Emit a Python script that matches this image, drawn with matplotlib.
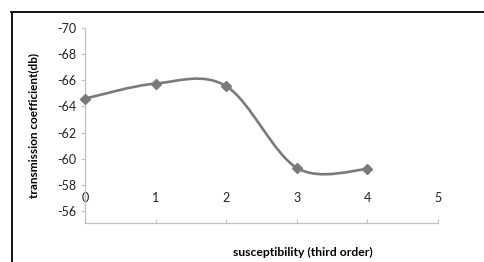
import numpy as np
import matplotlib.pyplot as plt
from matplotlib.path import Path
from matplotlib.patches import PathPatch
from matplotlib.lines import Line2D

plt.rcParams['font.family'] = ['Lato', 'DejaVu Sans']
plt.rcParams['axes.unicode_minus'] = False

susceptibility = [0, 1, 2, 3, 4]
transmission = [-64.6, -65.75, -65.55, -59.3, -59.2]
x_ticks = [0, 1, 2, 3, 4, 5]
y_ticks = [-70, -68, -66, -64, -62, -60, -58, -56]


def smooth_path(xs, ys):
    # excel-style smoothed line as bezier segments
    pts = np.column_stack([xs, ys])
    verts = [pts[0]]
    codes = [Path.MOVETO]
    n = len(pts)
    for i in range(n - 1):
        p0 = pts[i - 1] if i > 0 else pts[i]
        p1 = pts[i]
        p2 = pts[i + 1]
        p3 = pts[i + 2] if i + 2 < n else pts[i + 1]
        c1 = p1 + (p2 - p0) / 6
        c2 = p2 - (p3 - p1) / 6
        verts += [c1, c2, p2]
        codes += [Path.CURVE4] * 3
    return Path(verts, codes)


fig = plt.figure(figsize=(4.84, 2.62), dpi=100)
ax = fig.add_axes([0.1756, 0.149, 0.7294, 0.744])

line_col = '#7a7a7a'
ax.add_patch(PathPatch(smooth_path(susceptibility, transmission), facecolor='none',
                       edgecolor=line_col, lw=1.9, capstyle='round', clip_on=False))
ax.plot(susceptibility, transmission, linestyle='none', marker='D', ms=5.5,
        color=line_col, clip_on=False, zorder=3)

ax.set_xlim(0, 5)
ax.set_ylim(-55.08, -70)
ax.set_xticks(x_ticks)
ax.set_yticks(y_ticks)

for s in ['top', 'right']:
    ax.spines[s].set_visible(False)
for s in ['left', 'bottom']:
    ax.spines[s].set_color('#c0c0c0')
    ax.spines[s].set_linewidth(0.9)

ax.tick_params(axis='y', direction='out', length=3, color='#c0c0c0',
               labelsize=9, labelcolor='#222222', pad=3)
ax.tick_params(axis='x', direction='in', length=3, color='#c0c0c0',
               labelsize=9, labelcolor='#222222', pad=-22)

ax.set_ylabel('transmission coefficient(db)', fontsize=8.5, fontweight='bold')
ax.yaxis.set_label_coords(-0.13, 0.5)
fig.text(0.626, 0.015, 'susceptibility (third order)', fontsize=8.7,
         fontweight='bold', ha='center', va='bottom')

# outer chart border (cropped)
fig.add_artist(Line2D([11 / 484, 1.0], [1 - 11.5 / 262] * 2, color='black', lw=1.3))
fig.add_artist(Line2D([11.5 / 484] * 2, [0, 1 - 11.5 / 262], color='black', lw=1.3))

fig.savefig('out.png', dpi=100)
